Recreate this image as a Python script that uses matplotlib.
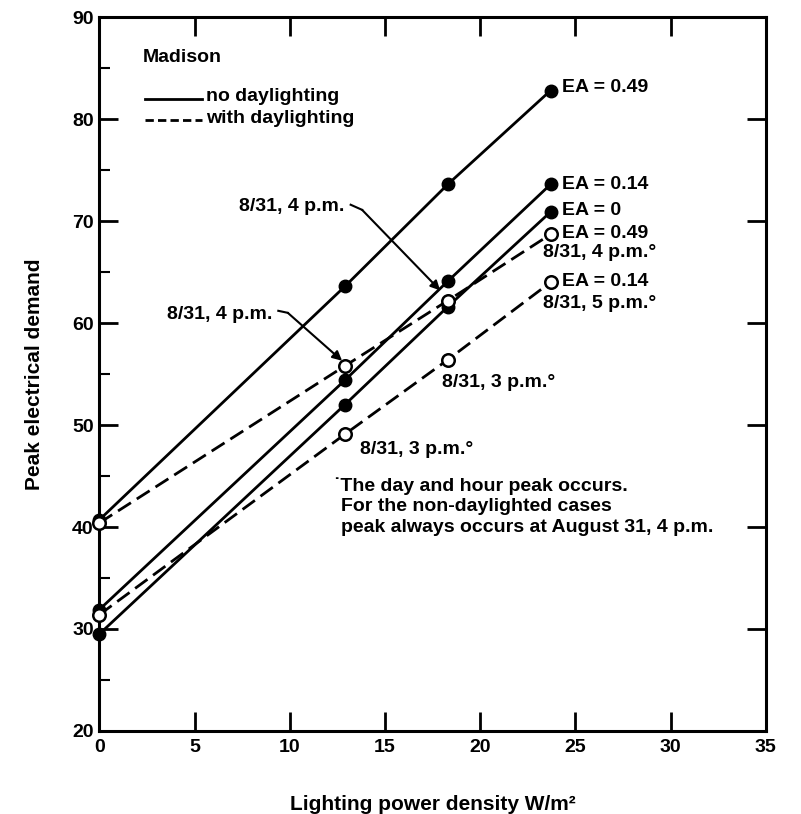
import matplotlib.pyplot as plt

plt.rcParams['font.family'] = ['Liberation Sans', 'DejaVu Sans']
plt.rcParams['font.weight'] = 'bold'
plt.rcParams['axes.labelweight'] = 'bold'

# Lighting power density (W/m2) for the four simulated cases
lpd = [0, 12.9, 18.3, 23.7]

# Peak electrical demand, no daylighting
no_day_049 = [40.7, 63.6, 73.6, 82.8]
no_day_014 = [31.9, 54.4, 64.1, 73.6]
no_day_000 = [29.5, 52.0, 61.6, 70.9]

# Peak electrical demand, with daylighting
day_049 = [40.4, 55.8, 62.2, 68.7]
day_014 = [31.4, 49.1, 56.4, 64.0]

end_labels = ["EA = 0.49", "EA = 0.14", "EA = 0", "EA = 0.49", "EA = 0.14"]
time_labels = ["8/31, 4 p.m.\u00b0", "8/31, 5 p.m.\u00b0"]

fig = plt.figure(figsize=(8.01, 8.14), dpi=100)
ax = fig.add_axes([0.124, 0.102, 0.832, 0.877])

lw = 2.0
solid_kw = dict(color='black', lw=lw, marker='o', ms=9, mfc='black', mec='black',
                clip_on=False)
dash_kw = dict(color='black', lw=lw, ls=(0, (5.5, 2.5)), marker='o', ms=9,
               mfc='white', mec='black', mew=1.8, clip_on=False)

ax.plot(lpd, no_day_049, **solid_kw, zorder=3)
ax.plot(lpd, no_day_014, **solid_kw, zorder=3)
ax.plot(lpd, no_day_000, **solid_kw, zorder=3)
ax.plot(lpd, day_049, **dash_kw, zorder=4)
ax.plot(lpd, day_014, **dash_kw, zorder=4)

ax.set_xlim(0, 35)
ax.set_ylim(20, 90)
ax.set_xticks(range(0, 36, 5))
ax.set_yticks(range(20, 91, 10))
ax.set_yticks(range(25, 90, 10), minor=True)
ax.tick_params(axis='both', which='major', direction='in', length=14, width=2,
               labelsize=14, top=True, right=True, pad=4)
ax.tick_params(axis='y', which='minor', direction='in', length=8, width=1.5,
               right=False)
ax.tick_params(axis='x', which='major', pad=6)
for s in ax.spines.values():
    s.set_linewidth(2.2)
for lab in ax.get_xticklabels() + ax.get_yticklabels():
    lab.set_fontweight('bold')

ax.set_xlabel("Lighting power density W/m\u00b2", fontsize=15, labelpad=28)
ax.set_ylabel("Peak electrical demand", fontsize=15, labelpad=20)

fs = 14
# key in the upper left corner
ax.text(2.3, 86.0, "Madison", fontsize=fs, va='center')
ax.plot([2.4, 5.4], [82.0, 82.0], color='black', lw=lw)
ax.plot([2.4, 5.4], [79.9, 79.9], color='black', lw=lw, ls=(0, (3, 1.5)))
ax.text(5.6, 82.2, "no daylighting", fontsize=fs, va='center')
ax.text(5.6, 80.1, "with daylighting", fontsize=fs, va='center')

# labels at the ends of the lines
xe = lpd[-1] + 0.6
ends = [no_day_049[-1] + 0.3, no_day_014[-1], no_day_000[-1] + 0.1,
        day_049[-1] + 0.1, day_014[-1] + 0.1]
for lab, yv in zip(end_labels, ends):
    ax.text(xe, yv, lab, fontsize=fs, va='center')
ax.text(23.3, 66.9, time_labels[0], fontsize=fs, va='center')
ax.text(23.3, 61.9, time_labels[1], fontsize=fs, va='center')

ax.text(18.0, 54.2, "8/31, 3 p.m.\u00b0", fontsize=fs, va='center')
ax.text(13.7, 47.6, "8/31, 3 p.m.\u00b0", fontsize=fs, va='center')

# leaders pointing at the daylighted peaks
ax.text(12.85, 71.4, "8/31, 4 p.m.", fontsize=fs, va='center', ha='right')
ax.plot([13.2, 13.8], [71.6, 71.1], color='black', lw=1.5)
ax.annotate("", xy=(17.9, 63.2), xytext=(13.8, 71.1),
            arrowprops=dict(arrowstyle='-|>', color='black', lw=1.5,
                            mutation_scale=14, shrinkA=0, shrinkB=0))
ax.text(9.1, 60.8, "8/31, 4 p.m.", fontsize=fs, va='center', ha='right')
ax.plot([9.4, 9.9], [61.2, 61.0], color='black', lw=1.5)
ax.annotate("", xy=(12.75, 56.3), xytext=(9.9, 61.0),
            arrowprops=dict(arrowstyle='-|>', color='black', lw=1.5,
                            mutation_scale=14, shrinkA=0, shrinkB=0))

ax.text(12.3, 44.0, "\u02d9The day and hour peak occurs.", fontsize=fs, va='center')
ax.text(12.7, 42.0, "For the non-daylighted cases", fontsize=fs, va='center')
ax.text(12.7, 40.0, "peak always occurs at August 31, 4 p.m.", fontsize=fs, va='center')

fig.savefig("out.png", dpi=100)
